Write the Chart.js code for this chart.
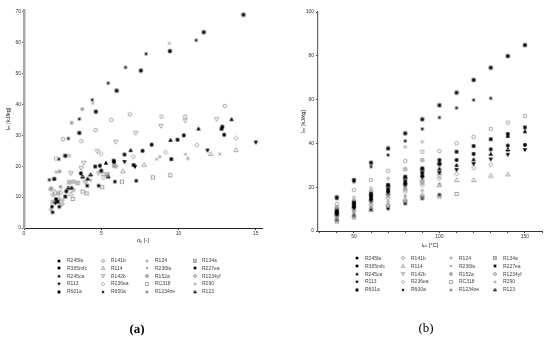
<!DOCTYPE html>
<html><head><meta charset="utf-8">
<script src="https://cdn.jsdelivr.net/npm/chart.js@4/dist/chart.umd.min.js"></script>
<style>
html,body{margin:0;padding:0;background:#fff;}
body{width:550px;height:339px;position:relative;overflow:hidden;font-family:"Liberation Sans",Arial,sans-serif;}
#ca{position:absolute;left:0;top:0;}
#cb{position:absolute;left:275px;top:0;}
.lm{position:absolute;}
.lt{position:absolute;font-size:5px;line-height:5px;color:#444;white-space:nowrap;will-change:transform;-webkit-font-smoothing:antialiased;}
.cap{position:absolute;font-family:"Liberation Serif","DejaVu Serif",serif;font-size:13px;line-height:13px;color:#000;transform:translate(-50%,-50%);will-change:transform;-webkit-font-smoothing:antialiased;}
</style></head>
<body>
<canvas id="ca" width="275" height="250"></canvas>
<canvas id="cb" width="275" height="250"></canvas>
<div id="legA"></div><div id="legB"></div>
<div class="cap" style="left:136.5px;top:328px;font-weight:bold;">(a)</div>
<div class="cap" style="left:426px;top:327px;">(b)</div>
<script>
// ---- data ----
const refrigerants = ['R245fa','R365mfc','R245ca','R113','R601a',
                      'R141b','R114','R142b','R236ea','R600a',
                      'R124','R236fa','R152a','RC318','R1234ze',
                      'R134a','R227ea','R1234yf','R290','R123'];
const markerTypes = ['dot','sq','tri','tdn','starK','ocirc','otri','otdn','odia','ast',
                     'plus','x','cplus','osq','gstar','sqplus','astK','diaplus','sdot','club'];

// (a) sigma_p [-] , l_ex [kJ/kg] pairs
const a_R245fa  = [[2.07,9.3],[2.74,11.9],[3.68,17.7],[4.91,20.2],[5.0,18.6],[5.82,21.4],[6.5,23.8],[7.67,25],[8.26,27],[10.34,30],[12.95,30.2]];
const a_R365mfc = [[2.18,8.5],[2.67,10.2],[4.61,19.9],[5.8,21.8],[7.09,20.4],[9.53,22.3],[9.93,28.6],[12.78,32.1],[12.83,32.8]];
const a_R245ca  = [[3.08,13.1],[4.12,16],[5.3,21.1],[6.9,25.2],[9.48,28.5],[11.29,32.2],[13.43,35.2]];
const a_R113    = [[2.03,8],[6.5,21.4],[7.18,19.8],[11.87,25.1],[15,27.7]];
const a_R601a   = [[1.96,15.9],[2.67,23.4],[3.58,30.8],[4.65,37.7],[5.99,44.5],[7.56,51],[9.44,57.3],[11.63,63.4],[14.2,69.1]];
const a_R141b   = [[2.07,22.5],[2.52,28.8],[3.71,28.1],[4.63,31.7],[5.65,35],[6.85,36.8],[8.9,36.1],[10.43,36.1],[13.0,39.5]];
const a_R114    = [[3.02,11],[5.15,17.5],[6.4,18.4],[7.78,20.5],[12.07,24],[13.71,25.3]];
const a_R142b   = [[1.9,11.8],[3.02,17.7],[3.7,19.4],[3.86,21.1],[4.74,24.8],[5.93,27.9],[7.22,30.7],[8.86,33],[10.43,34.8],[12.46,35.2]];
const a_R236ea  = [[2.37,11.5],[4.98,24.1],[5.15,16.3],[7.07,23.1],[9.16,24.5],[11.2,26.8],[13.73,29]];
const a_R600a   = [[1.64,15.6],[2.26,22.3],[2.87,29],[3.58,35.3],[4.42,41.5],[5.45,46.9],[6.57,52],[7.9,56.4],[11.14,60.8]];
const a_R124    = [[2.5,9],[4.3,15.5],[8.79,23.1],[10.6,22.5]];
const a_R236fa  = [[2.33,13.4],[4.45,40.4],[8.58,22.3],[9.4,59.8],[10.45,23.9],[12.67,24]];
const a_R152a   = [[1.85,8.4],[2.26,9.3],[3.2,15],[5.82,20.1]];
const a_RC318   = [[3.15,9.4],[3.79,11.8],[4.05,11.2],[5.06,13.2],[6.34,15],[8.34,16.4],[9.46,17.1]];
const a_R1234ze = [[1.77,12.9],[2.3,18.3],[3.08,34.1],[3.77,38.5]];
const a_R134a   = [[2.2,11.2],[2.93,14.8],[3.47,14.6],[5.4,17.4]];
const a_R227ea  = [[1.81,6.9],[1.85,5.1],[2.28,6.9],[4.09,13.7],[4.83,13.7],[5.88,15],[7.26,15.3]];
const a_R1234yf = [[1.9,10.7],[2.46,7.8],[3.19,12.3],[3.97,15],[4.83,17.9],[5.95,20]];
const a_R290    = [[1.68,12.5],[1.72,6],[2.09,18.1],[2.39,13.3],[2.93,23.4]];
const a_R123    = [[2.87,12.9],[3.79,16.5],[4.31,17.2],[5.45,16.6]];

// (b) t_ho [°C] and l_ex [kJ/kg]
const tHo = [40,50,60,70,80,90,100,110,120,130,140,150];
const b_R245fa  = [8.5,12,15.5,19,22.5,26.5,30.5,32.4,35.2,37.3,39,39.3];
const b_R365mfc = [9.2,13,17,21,24.8,28.6,32.4,36.2,38.8,41.9,44.3,47.3];
const b_R245ca  = [8,11.5,15,18.5,22,25.5,28.5,30.1,32.7,35.2,43.4,45.5];
const b_R113    = [7.5,10.5,14,17.5,21,24.5,26.5,27.9,30.6,32.7,34.8,37];
const b_R601a   = [15.4,23.3,31.2,37.7,44.6,51,57.4,63.2,69,74.6,79.9,84.9];
const b_R141b   = [12.3,18.7,23.3,27.5,32,36.2,36.5,40,43,46.6,49.5,52.5];
const b_R114    = [5.5,7.5,10,12,14.5,16.5,21,23.3,23.3,25.3,25.9,null];
const b_R142b   = [7,10,13,16,20,22.5,25,null,null,null,null,null];
const b_R236ea  = [6.5,9,12,15,18,21,24,26,28.8,30.3,null,null];
const b_R600a   = [14.8,22.5,29.4,34.7,41.1,46.6,51.8,56.2,59.8,60.6,null,null];
const b_R124    = [6,8.5,11,13.5,16,18.5,21.5,null,null,null,null,null];
const b_R236fa  = [7,10,13,16.5,20,23.5,27,null,null,null,null,null];
const b_R152a   = [10.5,13.8,18,21,28.2,32.4,null,null,null,null,null,null];
const b_RC318   = [4.3,6.2,9.6,11.5,13.5,15.5,15.7,16.9,null,null,null,null];
const b_R1234ze = [8,11,14.5,17.5,21.5,25,null,null,null,null,null,null];
const b_R134a   = [9.6,12.5,16.5,20,24,28,null,null,null,null,null,null];
const b_R227ea  = [5,7,9.8,10.3,12.6,14.9,16.5,null,null,null,null,null];
const b_R1234yf = [7.2,10.2,13.5,16.8,19,22,null,null,null,null,null,null];
const b_R290    = [11,15.4,19.5,24,38.4,40.8,null,null,null,null,null,null];
const b_R123    = [8.8,12.5,16.5,20.5,24,28,31,null,null,null,37,null];

const ticksAx = [0,5,10,15];
const ticksAy = [0,10,20,30,40,50,60,70];
const ticksBx = [30,40,50,60,70,80,90,100,110,120,130,140,150,160];
const labelsBx = [50,100,150];
const ticksBy = [0,20,40,60,80,100];

const seriesA = [a_R245fa,a_R365mfc,a_R245ca,a_R113,a_R601a,a_R141b,a_R114,a_R142b,a_R236ea,a_R600a,
                 a_R124,a_R236fa,a_R152a,a_RC318,a_R1234ze,a_R134a,a_R227ea,a_R1234yf,a_R290,a_R123];
const seriesB = [b_R245fa,b_R365mfc,b_R245ca,b_R113,b_R601a,b_R141b,b_R114,b_R142b,b_R236ea,b_R600a,
                 b_R124,b_R236fa,b_R152a,b_RC318,b_R1234ze,b_R134a,b_R227ea,b_R1234yf,b_R290,b_R123];

// ---- marker drawing (k = size factor) ----
function mk(type, k){
  k = k || 1;
  const s=6, c=document.createElement('canvas'); c.width=s; c.height=s;
  const g=c.getContext('2d'), m=3, K='#000', G='#8c8c8c';
  g.lineWidth=0.75;
  const circ=(r)=>{g.beginPath();g.arc(m,m,r*k,0,Math.PI*2);};
  const tri=(up)=>{const a=2.2*k,b=1.7*k; g.beginPath(); if(up){g.moveTo(m,m-a);g.lineTo(m+a,m+b);g.lineTo(m-a,m+b);}else{g.moveTo(m,m+a);g.lineTo(m+a,m-b);g.lineTo(m-a,m-b);} g.closePath();};
  const dia=(r)=>{r*=k; g.beginPath();g.moveTo(m,m-r);g.lineTo(m+r,m);g.lineTo(m,m+r);g.lineTo(m-r,m);g.closePath();};
  const rect=(h)=>{h*=k; return [m-h,m-h,2*h,2*h];};
  const spokes=(r,n,col,w)=>{r*=k; g.strokeStyle=col;g.lineWidth=w;g.beginPath();for(let i=0;i<n;i++){const a=Math.PI*i/n+(n===2?0:Math.PI/2);g.moveTo(m-r*Math.cos(a),m-r*Math.sin(a));g.lineTo(m+r*Math.cos(a),m+r*Math.sin(a));}g.stroke();};
  switch(type){
    case 'dot': g.fillStyle=K; circ(1.9); g.fill(); break;
    case 'sq': g.fillStyle=K; g.fillRect(...rect(1.7)); break;
    case 'tri': g.fillStyle=K; tri(true); g.fill(); break;
    case 'tdn': g.fillStyle=K; tri(false); g.fill(); break;
    case 'starK': g.fillStyle=K; circ(1.5); g.fill(); spokes(2.3,4,K,0.9); break;
    case 'ocirc': g.strokeStyle=G; circ(1.8); g.stroke(); break;
    case 'otri': g.strokeStyle=G; tri(true); g.stroke(); break;
    case 'otdn': g.strokeStyle=G; tri(false); g.stroke(); break;
    case 'odia': g.strokeStyle=G; dia(2.2); g.stroke(); break;
    case 'ast': spokes(1.8,3,K,0.8); break;
    case 'plus': spokes(2.0,2,G,0.8); break;
    case 'x': g.strokeStyle=G; g.lineWidth=0.8; {const d=1.5*k; g.beginPath(); g.moveTo(m-d,m-d); g.lineTo(m+d,m+d); g.moveTo(m+d,m-d); g.lineTo(m-d,m+d); g.stroke();} break;
    case 'cplus': g.strokeStyle=G; circ(1.9); g.stroke(); spokes(1.9,2,G,0.6); break;
    case 'osq': g.strokeStyle=G; g.strokeRect(...rect(1.7)); break;
    case 'gstar': g.fillStyle='#a0a0a0'; circ(1.3); g.fill(); spokes(2.2,4,G,0.7); break;
    case 'sqplus': g.strokeStyle=G; g.strokeRect(...rect(1.8)); spokes(1.8,2,G,0.6); break;
    case 'astK': g.fillStyle=K; circ(1.1); g.fill(); spokes(2.1,3,K,1.0); break;
    case 'diaplus': g.strokeStyle=G; dia(2.3); g.stroke(); spokes(2.3,2,G,0.5); break;
    case 'sdot': g.strokeStyle=G; circ(1.3); g.stroke(); break;
    case 'club': g.fillStyle=K; [[0,-1.2],[-1.2,0.5],[1.2,0.5]].forEach(p=>{g.beginPath();g.arc(m+p[0]*k,m+p[1]*k,1.0*k,0,Math.PI*2);g.fill();}); g.fillRect(m-0.35,m,0.7,2.2*k); break;
  }
  return c;
}

const FONT = {family:'"Liberation Sans", Arial, sans-serif', size:5};
function fixTicks(list){ return s=>{ s.ticks = list.map(v=>({value:v})); }; }

// ---- chart (a) ----
new Chart(document.getElementById('ca'), {
  type:'scatter',
  data:{datasets: refrigerants.map((n,i)=>({
    label:n, data: seriesA[i].map(p=>({x:p[0],y:p[1]})),
    pointStyle: mk(markerTypes[i]), pointRadius:3, showLine:false, clip:false
  }))},
  options:{
    responsive:false, animation:false, events:[],
    layout:{padding:{left:0,right:13,top:10,bottom:0}},
    plugins:{legend:{display:false},tooltip:{enabled:false}},
    scales:{
      x:{type:'linear',min:0,max:15.4,afterBuildTicks:fixTicks(ticksAx),afterFit:s=>{s.height=22;},
        border:{color:'#222',width:1},
        grid:{drawOnChartArea:false,drawTicks:true,tickLength:2,color:'#222'},
        ticks:{font:FONT,color:'#333',padding:1,maxRotation:0,autoSkip:false},
        title:{display:true,text:'σₚ [-]',font:{family:FONT.family,size:5.5},color:'#222',padding:{top:0,bottom:6.7}}},
      y:{type:'linear',min:0,max:70.6,afterBuildTicks:fixTicks(ticksAy),afterFit:s=>{s.width=24;},
        border:{color:'#a8a8a8',width:2.5},
        grid:{drawOnChartArea:false,drawTicks:true,tickLength:2,color:'#666'},
        ticks:{font:FONT,color:'#333',padding:1,autoSkip:false},
        title:{display:true,text:'lₑₓ [kJ/kg]',font:{family:FONT.family,size:5.5},color:'#222',padding:{top:4.7,bottom:0}}}
    }
  }
});

// ---- chart (b) ----
new Chart(document.getElementById('cb'), {
  type:'scatter',
  data:{datasets: refrigerants.map((n,i)=>({
    label:n, data: tHo.map((t,j)=>({x:t,y:seriesB[i][j]})).filter(p=>p.y!==null),
    pointStyle: mk(markerTypes[i]), pointRadius:3, showLine:false, clip:false
  }))},
  options:{
    responsive:false, animation:false, events:[],
    layout:{padding:{left:0,right:8,top:12,bottom:0}},
    plugins:{legend:{display:false},tooltip:{enabled:false}},
    scales:{
      x:{type:'linear',min:29,max:160,afterBuildTicks:fixTicks(ticksBx),afterFit:s=>{s.height=19;},
        border:{color:'#333',width:1},
        grid:{drawOnChartArea:false,drawTicks:true,tickLength:2,color:'#444'},
        ticks:{font:FONT,color:'#333',padding:1,maxRotation:0,autoSkip:false,
               callback:v=>labelsBx.includes(v)?String(v):''},
        title:{display:true,text:'tₕₒ [°C]',font:{family:FONT.family,size:5.5},color:'#222',padding:{top:0,bottom:1.7}}},
      y:{type:'linear',min:0,max:100,afterBuildTicks:fixTicks(ticksBy),afterFit:s=>{s.width=43;},
        border:{color:'#666',width:1.2},
        grid:{drawOnChartArea:false,drawTicks:true,tickLength:2,color:'#444'},
        ticks:{font:FONT,color:'#333',padding:2,autoSkip:false},
        title:{display:true,text:'lₑₓ [kJ/kg]',font:{family:FONT.family,size:5.5},color:'#222',padding:{top:24.7,bottom:0}}}
    }
  }
});

// ---- legends (HTML, 4 columns x 5 rows) ----
function legend(holder, rowY0, rowStep, markX, textX){
  const el=document.getElementById(holder);
  refrigerants.forEach((n,i)=>{
    const col=Math.floor(i/5), row=i%5, y=rowY0+row*rowStep;
    const c=mk(markerTypes[i],0.8); c.className='lm';
    c.style.left=(markX[col]-3)+'px'; c.style.top=(y-3)+'px';
    el.appendChild(c);
    const t=document.createElement('div'); t.className='lt'; t.textContent=n;
    t.style.left=textX[col]+'px'; t.style.top=(y-2.6)+'px';
    el.appendChild(t);
  });
}
legend('legA',260.7,7.75,[59.3,102.7,147,195.3],[66.7,111,155,201.7]);
legend('legB',258.3,7.9,[357,403,451,495],[364.5,411,458.5,503]);
</script>
</body></html>
